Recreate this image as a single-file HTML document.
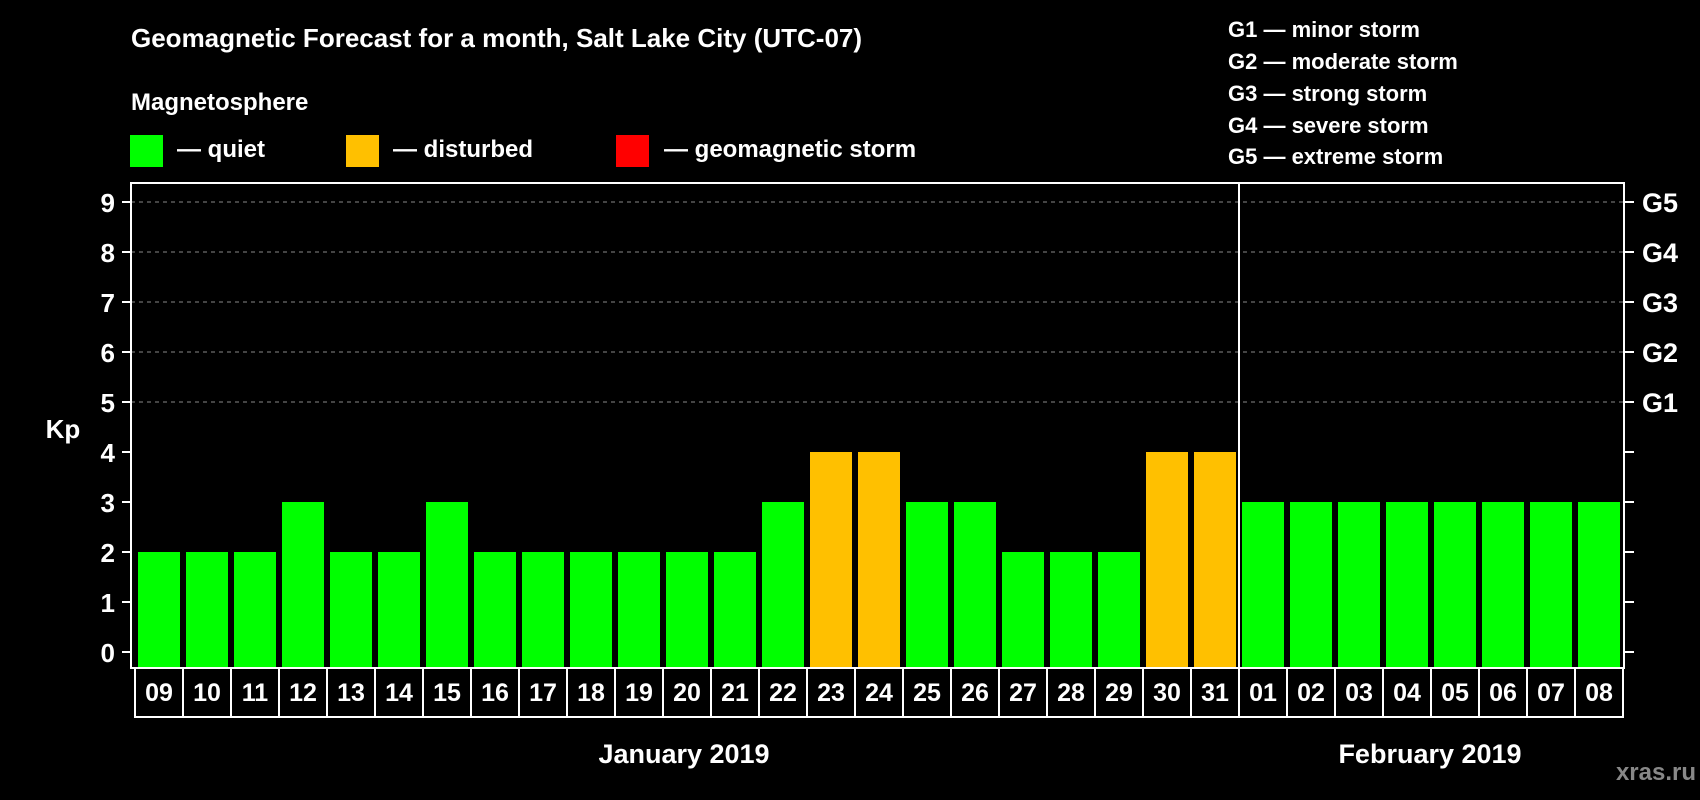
<!DOCTYPE html>
<html><head><meta charset="utf-8"><style>
html,body{margin:0;padding:0;background:#000;}
svg{display:block;font-family:"Liberation Sans",Arial,sans-serif;font-weight:bold;}
</style></head><body>
<svg id="chart" width="1700" height="800" viewBox="0 0 1700 800">
<rect x="0" y="0" width="1700" height="800" fill="#000"/>
<text x="131" y="47" font-size="26" fill="#fff">Geomagnetic Forecast for a month, Salt Lake City (UTC-07)</text>
<text x="131" y="110" font-size="24" fill="#fff">Magnetosphere</text>
<g>
<rect x="130" y="135" width="33" height="32" fill="#00ff00"/>
<text x="177" y="157" font-size="24" fill="#fff">— quiet</text>
<rect x="346" y="135" width="33" height="32" fill="#ffc000"/>
<text x="393" y="157" font-size="24" fill="#fff">— disturbed</text>
<rect x="616" y="135" width="33" height="32" fill="#ff0000"/>
<text x="664" y="157" font-size="24" fill="#fff">— geomagnetic storm</text>
</g>
<g font-size="22" fill="#fff">
<text x="1228" y="37">G1 — minor storm</text>
<text x="1228" y="69">G2 — moderate storm</text>
<text x="1228" y="101">G3 — strong storm</text>
<text x="1228" y="133">G4 — severe storm</text>
<text x="1228" y="164">G5 — extreme storm</text>
</g>
<g id="grid"></g>
<g id="bars"></g>
<g id="axes"></g>
<text x="63" y="438" font-size="26" fill="#fff" text-anchor="middle">Kp</text>
<text x="684" y="763" font-size="27" fill="#fff" text-anchor="middle">January 2019</text>
<text x="1430" y="763" font-size="27" fill="#fff" text-anchor="middle">February 2019</text>
<text x="1696" y="780" font-size="24" fill="#888" text-anchor="end">xras.ru</text>
</svg>
<script>
const days = ["09","10","11","12","13","14","15","16","17","18","19","20","21","22","23","24","25","26","27","28","29","30","31","01","02","03","04","05","06","07","08"];
const kpValues = [2,2,2,3,2,2,3,2,2,2,2,2,2,3,4,4,3,3,2,2,2,4,4,3,3,3,3,3,3,3,3];
const yTicks = [0,1,2,3,4,5,6,7,8,9];
const gLabels = ["G1","G2","G3","G4","G5"];
const gLevels = [5,6,7,8,9];
const monthBreakIndex = 23;

const NS = "http://www.w3.org/2000/svg";
const plotLeft = 131, plotRight = 1624, plotTop = 183, plotBottom = 668;
const slotStart = 135, slotW = 48;
function yScale(v){ return 652 - v * 50; }
function xScale(i){ return slotStart + i * slotW; }
function mk(tag, attrs, parent){ const e = document.createElementNS(NS, tag); for (const k in attrs) e.setAttribute(k, attrs[k]); parent.appendChild(e); return e; }
function colorFor(v){ return v >= 5 ? "#ff0000" : (v >= 4 ? "#ffc000" : "#00ff00"); }

const grid = document.getElementById("grid");
const bars = document.getElementById("bars");
const axes = document.getElementById("axes");

gLevels.forEach(function(v){
  const l = mk("line", {x1: plotLeft, x2: plotRight, y1: yScale(v), y2: yScale(v), stroke: "#888", "stroke-width": 1, "stroke-dasharray": "4,4"}, grid);
  
  
});

kpValues.forEach(function(v, i){
  const r = mk("rect", {x: xScale(i) + 3, y: yScale(v), width: 42, height: plotBottom - yScale(v), fill: colorFor(v)}, bars);
  
  
});

const frame = mk("rect", {x: plotLeft, y: plotTop, width: plotRight - plotLeft, height: plotBottom - plotTop, fill: "none", stroke: "#fff", "stroke-width": 2}, axes);


const div = mk("line", {x1: xScale(monthBreakIndex), x2: xScale(monthBreakIndex), y1: plotTop, y2: plotBottom, stroke: "#fff", "stroke-width": 2}, axes);



yTicks.forEach(function(v){
  const y = yScale(v);
  mk("line", {x1: 122, x2: plotLeft, y1: y, y2: y, stroke: "#fff", "stroke-width": 2}, axes);
  mk("line", {x1: plotRight, x2: 1634, y1: y, y2: y, stroke: "#fff", "stroke-width": 2}, axes);
  const t = mk("text", {x: 115, y: y + 10, "font-size": 26, fill: "#fff", "text-anchor": "end"}, axes);
  t.textContent = String(v);
  
  
});
gLabels.forEach(function(g, i){
  const t = mk("text", {x: 1642, y: yScale(gLevels[i]) + 10, "font-size": 27, fill: "#fff"}, axes);
  t.textContent = g;
  
  
});

days.forEach(function(d, i){
  const b = mk("rect", {x: xScale(i), y: 668, width: slotW, height: 49, fill: "#000", stroke: "#fff", "stroke-width": 2}, axes);
  
  
  const t = mk("text", {x: xScale(i) + slotW / 2, y: 701, "font-size": 25, fill: "#fff", "text-anchor": "middle"}, axes);
  t.textContent = d;
  
  
});
</script>
</body></html>
